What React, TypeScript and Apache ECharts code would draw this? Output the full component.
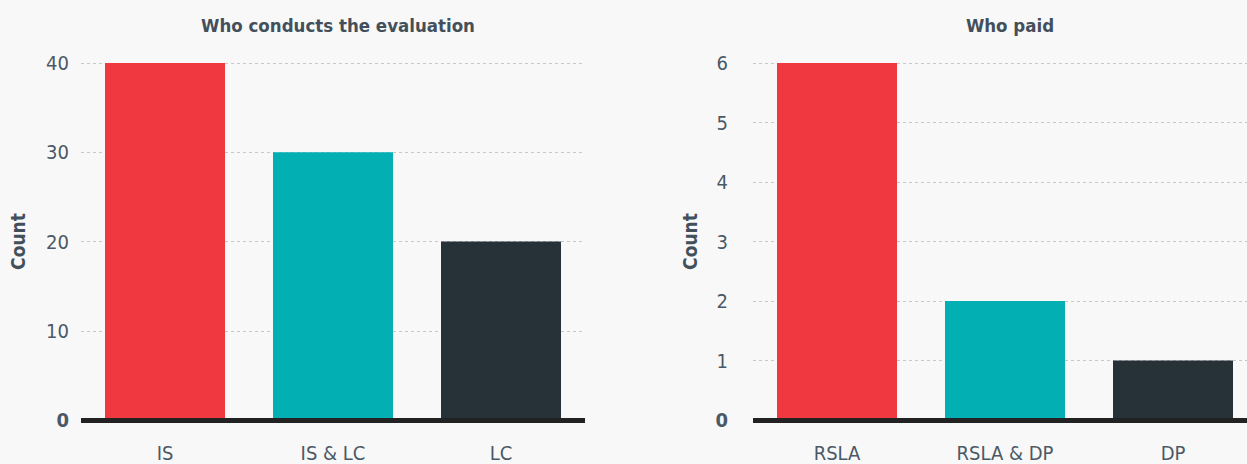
import React, { useEffect, useRef } from "react";
import * as echarts from "echarts";

// Who conducts the evaluation
const evalCategories = ["IS", "IS & LC", "LC"];
const evalCounts = [40, 30, 20];

// Who paid
const paidCategories = ["RSLA", "RSLA & DP", "DP"];
const paidCounts = [6, 2, 1];

const barColors = ["#f03841", "#02b0b4", "#263238"];

const FONT = "'DejaVu Sans Condensed', 'DejaVu Sans', sans-serif";
const TEXT = "#4b5966";
const TITLE = "#434f5a";

function yLabel(v: number) {
  return v === 0 ? "{z|0}" : String(v);
}

function buildSeries(values: number[], idx: number) {
  return {
    type: "bar",
    xAxisIndex: idx,
    yAxisIndex: idx,
    barWidth: 120,
    data: values.map((v, i) => ({ value: v, itemStyle: { color: barColors[i] } })),
  };
}

export default function App() {
  const ref = useRef<HTMLDivElement>(null);

  useEffect(() => {
    if (!ref.current) return;
    const chart = echarts.init(ref.current, undefined, { renderer: "svg" });

    const xAxisBase = {
      type: "category",
      z: 10,
      axisTick: { show: false },
      axisLine: { show: true, lineStyle: { color: "#222222", width: 5, cap: "butt" } },
      axisLabel: { color: TEXT, fontSize: 20, fontFamily: FONT, margin: 23 },
    };
    const yAxisBase = {
      type: "value",
      name: "Count",
      nameLocation: "middle",
      nameGap: 54,
      nameTextStyle: { color: TITLE, fontSize: 19, fontWeight: "bold", fontFamily: FONT },
      axisLine: { show: false },
      axisTick: { show: false },
      splitLine: { lineStyle: { color: "#c8c8c8", type: [3, 3], width: 1 } },
    };
    const titleStyle = { color: TITLE, fontSize: 18.5, fontWeight: "bold", fontFamily: FONT };

    chart.setOption({
      animation: false,
      backgroundColor: "#f8f8f8",
      title: [
        { text: "Who conducts the evaluation", left: 333, top: 11, textAlign: "center", textStyle: titleStyle },
        { text: "Who paid", left: 1005, top: 11, textAlign: "center", textStyle: titleStyle },
      ],
      grid: [
        { left: 81, top: 63, width: 504, height: 357 },
        { left: 753, top: 63, width: 504, height: 357 },
      ],
      xAxis: [
        { ...xAxisBase, gridIndex: 0, data: evalCategories },
        { ...xAxisBase, gridIndex: 1, data: paidCategories },
      ],
      yAxis: [
        {
          ...yAxisBase,
          gridIndex: 0,
          min: 0,
          max: 40,
          interval: 10,
          axisLabel: {
            color: TEXT,
            fontSize: 20,
            fontFamily: FONT,
            margin: 12,
            formatter: yLabel,
            rich: { z: { fontWeight: "bold", fontSize: 20, color: TEXT, fontFamily: FONT } },
          },
        },
        {
          ...yAxisBase,
          gridIndex: 1,
          min: 0,
          max: 6,
          interval: 1,
          axisLabel: {
            color: TEXT,
            fontSize: 20,
            fontFamily: FONT,
            margin: 25,
            formatter: yLabel,
            rich: { z: { fontWeight: "bold", fontSize: 20, color: TEXT, fontFamily: FONT } },
          },
        },
      ],
      series: [buildSeries(evalCounts, 0), buildSeries(paidCounts, 1)],
    });

    return () => chart.dispose();
  }, []);

  // The canvas runs slightly past the right edge so the second panel keeps full-width categories.
  return (
    <div
      ref={ref}
      style={{ position: "fixed", left: 0, top: 0, width: 1257, height: 464 }}
    />
  );
}
